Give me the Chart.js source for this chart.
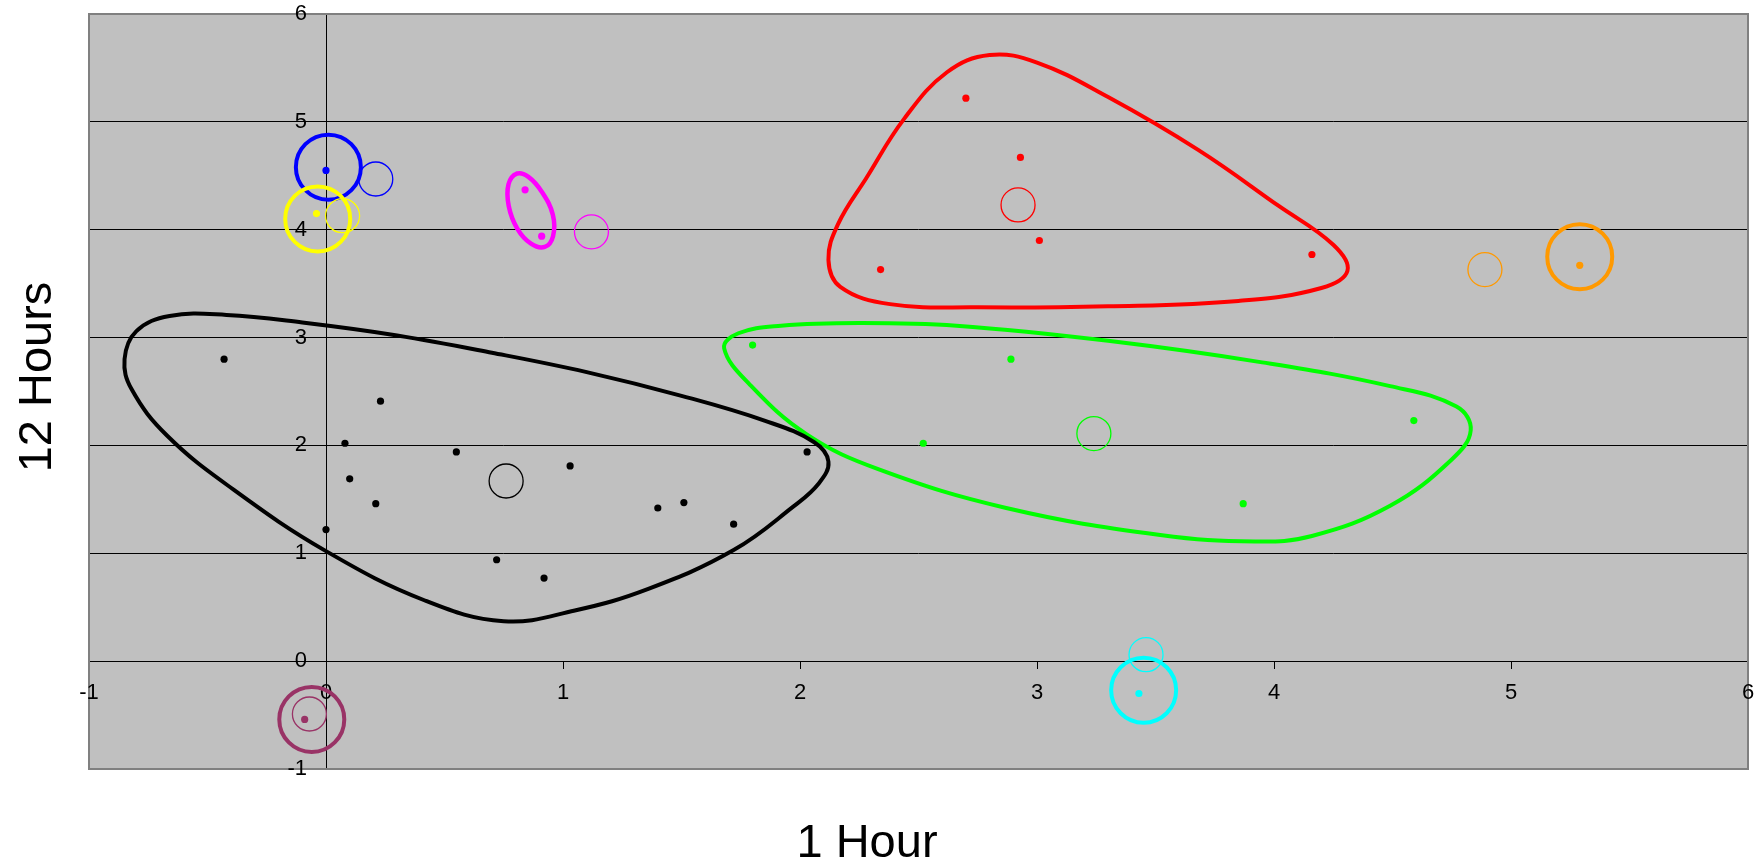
<!DOCTYPE html>
<html>
<head>
<meta charset="utf-8">
<title>Clusters</title>
<script src="https://cdn.jsdelivr.net/npm/chart.js@4.4.1/dist/chart.umd.min.js"></script>
<style>
  html, body { margin: 0; padding: 0; background: #fff; }
  canvas { display: block; }
</style>
</head>
<body>
<canvas id="clusters" width="1764" height="861"></canvas>
<script>
// ---- data ----
const xTicks = [-1, 0, 1, 2, 3, 4, 5, 6];
const yTicks = [-1, 0, 1, 2, 3, 4, 5, 6];
const xTitle = "1 Hour";
const yTitle = "12 Hours";

// members of each cluster
const blackDots = [[-0.43, 2.80], [0.23, 2.41], [0.08, 2.02], [0.55, 1.94], [0.10, 1.69], [0.21, 1.46],
  [0.00, 1.22], [0.72, 0.94], [0.92, 0.77], [1.03, 1.81], [1.40, 1.42], [1.51, 1.47], [1.72, 1.27], [2.03, 1.94]];
const redDots = [[2.70, 5.22], [2.93, 4.67], [3.01, 3.90], [2.34, 3.63], [4.16, 3.77]];
const greenDots = [[1.80, 2.93], [2.89, 2.80], [2.52, 2.02], [3.87, 1.46], [4.59, 2.23]];
const magentaDots = [[0.84, 4.37], [0.91, 3.94]];
const blueDots = [[0.00, 4.55]];
const yellowDots = [[-0.04, 4.15]];
const plumDots = [[-0.09, -0.54]];
const cyanDots = [[3.43, -0.30]];
const orangeDots = [[5.29, 3.67]];

// cluster centres (thin circles), same order as clusterColors
const centres = [[0.76, 1.67], [2.92, 4.23], [3.24, 2.11], [1.12, 3.98], [0.21, 4.47],
  [0.07, 4.13], [-0.07, -0.49], [3.46, 0.06], [4.89, 3.63]];

// outlines around the one-member clusters (blue, yellow, plum, cyan, orange)
const rings = [[0.01, 4.58], [-0.035, 4.10], [-0.06, -0.54], [3.45, -0.27], [5.29, 3.75]];

// outlines around the larger clusters, traced clockwise
const blackHull = [[-0.85, 2.80], [-0.80, 3.06], [-0.66, 3.20], [-0.42, 3.21], [-0.10, 3.14], [0.30, 3.02],
  [0.70, 2.86], [1.10, 2.68], [1.50, 2.46], [1.85, 2.23], [2.06, 2.03], [2.12, 1.85], [2.08, 1.65],
  [1.97, 1.43], [1.72, 1.03], [1.36, 0.67], [1.05, 0.47], [0.75, 0.37], [0.42, 0.56], [0.00, 1.02],
  [-0.39, 1.59], [-0.67, 2.09], [-0.82, 2.52]];
const redHull = [[2.80, 5.62], [3.00, 5.55], [3.30, 5.23], [3.68, 4.74], [4.02, 4.22], [4.25, 3.86],
  [4.31, 3.62], [4.20, 3.46], [3.85, 3.34], [3.30, 3.29], [2.75, 3.28], [2.38, 3.31], [2.17, 3.47],
  [2.12, 3.72], [2.16, 4.05], [2.28, 4.48], [2.44, 5.03], [2.62, 5.46]];
const greenHull = [[1.68, 2.90], [1.74, 3.04], [1.92, 3.11], [2.25, 3.135], [2.66, 3.11], [3.30, 2.97],
  [3.95, 2.77], [4.49, 2.55], [4.77, 2.36], [4.83, 2.14], [4.75, 1.87], [4.49, 1.44], [4.16, 1.16],
  [3.92, 1.11], [3.52, 1.17], [2.87, 1.42], [2.33, 1.78], [2.03, 2.10], [1.79, 2.56]];
const magentaHull = [[0.805, 4.52], [0.854, 4.49], [0.911, 4.35], [0.957, 4.14], [0.958, 3.94],
  [0.923, 3.84], [0.865, 3.87], [0.807, 4.01], [0.771, 4.22], [0.770, 4.42]];

// ---- styles ----
const clusterColors = ["#000000", "#FF0000", "#00FF00", "#FF00FF", "#0000FF", "#FFFF00", "#993366", "#00FFFF", "#FF9900"];
const ringColors = ["#0000FF", "#FFFF00", "#993366", "#00FFFF", "#FF9900"];
const FONT = '"Liberation Sans", Arial, sans-serif';

const toXY = (pts) => pts.map(([x, y]) => ({ x, y }));

// wrap the outline so every drawn segment has real neighbours; the two
// end segments only steer the curve and are left invisible
function closedOutline(pts, color, width) {
  const data = toXY([pts[pts.length - 1], ...pts, pts[0], pts[1]]);
  const last = data.length - 2;
  return {
    data,
    showLine: true,
    tension: 0.4,
    borderColor: color,
    borderWidth: width,
    borderCapStyle: "round",
    borderJoinStyle: "round",
    pointRadius: 0,
    pointHitRadius: 0,
    segment: {
      borderColor: (c) => (c.p0DataIndex === 0 || c.p0DataIndex === last ? "rgba(0,0,0,0)" : color)
    }
  };
}

function dots(pts, color) {
  return {
    data: toXY(pts),
    pointRadius: 3.6,
    backgroundColor: color,
    borderColor: color,
    borderWidth: 0
  };
}

const datasets = [
  dots(blackDots, clusterColors[0]),
  dots(redDots, clusterColors[1]),
  dots(greenDots, clusterColors[2]),
  dots(magentaDots, clusterColors[3]),
  dots(blueDots, clusterColors[4]),
  dots(yellowDots, clusterColors[5]),
  dots(plumDots, clusterColors[6]),
  dots(cyanDots, clusterColors[7]),
  dots(orangeDots, clusterColors[8]),
  {
    data: toXY(centres),
    pointRadius: 17,
    pointBorderWidth: 1.3,
    pointBorderColor: clusterColors,
    pointBackgroundColor: "rgba(0,0,0,0)"
  },
  {
    data: toXY(rings),
    pointRadius: 32.5,
    pointBorderWidth: 4,
    pointBorderColor: ringColors,
    pointBackgroundColor: "rgba(0,0,0,0)"
  },
  closedOutline(magentaHull, "#FF00FF", 4.5),
  closedOutline(blackHull, "#000000", 4),
  closedOutline(redHull, "#FF0000", 4),
  closedOutline(greenHull, "#00FF00", 4)
];

// grey plot area, its frame, tick labels at the crossing axes and the axis titles
const plotFrame = {
  id: "plotFrame",
  beforeDraw(chart) {
    const { ctx, chartArea: a } = chart;
    ctx.save();
    ctx.fillStyle = "#C0C0C0";
    ctx.fillRect(a.left, a.top, a.right - a.left, a.bottom - a.top);
    ctx.restore();
  },
  beforeDatasetsDraw(chart) {
    const { ctx, chartArea: a, scales: { x, y } } = chart;
    ctx.save();
    ctx.strokeStyle = "#808080";
    ctx.lineWidth = 2;
    ctx.strokeRect(a.left, a.top, a.right - a.left, a.bottom - a.top);

    const x0 = x.getPixelForValue(0);
    const y0 = y.getPixelForValue(0);
    ctx.fillStyle = "#000";
    ctx.font = "22px " + FONT;
    ctx.textBaseline = "middle";
    ctx.textAlign = "right";
    yTicks.forEach((v) => ctx.fillText(String(v), x0 - 19, y.getPixelForValue(v)));
    ctx.textAlign = "center";
    xTicks.forEach((v) => ctx.fillText(String(v), x.getPixelForValue(v), y0 + 32));

    ctx.font = "47px " + FONT;
    ctx.textBaseline = "alphabetic";
    ctx.fillText(xTitle, 867, 857);
    ctx.translate(51, 377);
    ctx.rotate(-Math.PI / 2);
    ctx.fillText(yTitle, 0, 0);
    ctx.restore();
  }
};

new Chart(document.getElementById("clusters"), {
  type: "scatter",
  data: { datasets },
  plugins: [plotFrame],
  options: {
    responsive: false,
    devicePixelRatio: 1,
    animation: false,
    events: [],
    layout: { autoPadding: false, padding: { left: 89, top: 14, right: 16, bottom: 92 } },
    plugins: { legend: { display: false }, tooltip: { enabled: false } },
    scales: {
      x: {
        type: "linear",
        min: -1,
        max: 6,
        position: { y: 0 },
        afterBuildTicks: (s) => { s.ticks = xTicks.map((v) => ({ value: v })); },
        ticks: { display: false },
        grid: { drawOnChartArea: false, drawTicks: true, tickLength: 7, color: "#000", lineWidth: 1 },
        border: { display: true, color: "#000", width: 1 }
      },
      y: {
        type: "linear",
        min: -1,
        max: 6,
        position: { x: 0 },
        afterBuildTicks: (s) => { s.ticks = yTicks.map((v) => ({ value: v })); },
        ticks: { display: false },
        grid: { drawTicks: true, tickLength: 7, color: "#000", lineWidth: 1 },
        border: { display: true, color: "#000", width: 1 }
      }
    }
  }
});
</script>
</body>
</html>
